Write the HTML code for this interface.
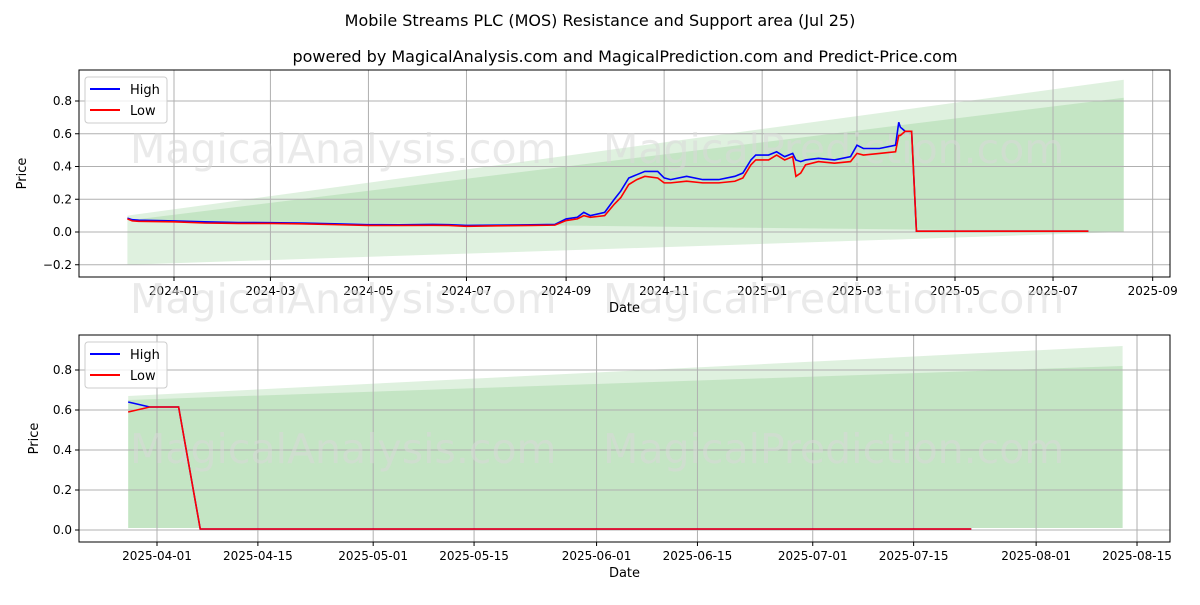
<!DOCTYPE html>
<html><head><meta charset="utf-8"><style>
body{margin:0;background:#fff;font-family:"Liberation Sans","DejaVu Sans",sans-serif}
svg text{font-family:"DejaVu Sans","Liberation Sans",sans-serif}
</style></head><body>
<svg id="s" width="1200" height="600" xmlns="http://www.w3.org/2000/svg">
<rect width="1200" height="600" fill="#fff"/>
<text x="600" y="26" text-anchor="middle" font-size="16">Mobile Streams PLC (MOS) Resistance and Support area (Jul 25)</text>
<text x="625" y="62" text-anchor="middle" font-size="16">powered by MagicalAnalysis.com and MagicalPrediction.com and Predict-Price.com</text>
</svg>
<script>
const dates=["2023-12-03","2023-12-06","2023-12-10","2024-01-01","2024-01-20","2024-02-10","2024-03-01","2024-03-20","2024-04-10","2024-05-01","2024-05-20","2024-06-10","2024-06-20","2024-07-01","2024-07-20","2024-08-10","2024-08-25","2024-09-01","2024-09-08","2024-09-12","2024-09-16","2024-09-25","2024-10-01","2024-10-05","2024-10-10","2024-10-15","2024-10-20","2024-10-28","2024-11-01","2024-11-05","2024-11-15","2024-11-25","2024-12-05","2024-12-15","2024-12-20","2024-12-25","2024-12-28","2025-01-05","2025-01-10","2025-01-15","2025-01-20","2025-01-22","2025-01-25","2025-01-28","2025-02-05","2025-02-15","2025-02-25","2025-03-01","2025-03-05","2025-03-15","2025-03-25","2025-03-27","2025-03-28","2025-03-31","2025-04-04","2025-04-07","2025-05-01","2025-06-01","2025-07-01","2025-07-23"];
const high=[0.085,0.075,0.072,0.068,0.062,0.058,0.057,0.055,0.05,0.045,0.044,0.046,0.045,0.04,0.042,0.044,0.046,0.08,0.09,0.12,0.10,0.12,0.20,0.25,0.33,0.35,0.37,0.37,0.33,0.32,0.34,0.32,0.32,0.34,0.36,0.44,0.47,0.47,0.49,0.46,0.48,0.44,0.43,0.44,0.45,0.44,0.46,0.53,0.51,0.51,0.53,0.67,0.64,0.615,0.615,0.005,0.005,0.005,0.005,0.005];
const low=[0.08,0.068,0.065,0.062,0.055,0.052,0.052,0.05,0.045,0.04,0.04,0.041,0.04,0.035,0.038,0.04,0.042,0.07,0.08,0.10,0.09,0.10,0.17,0.21,0.29,0.32,0.34,0.33,0.30,0.30,0.31,0.30,0.30,0.31,0.33,0.41,0.44,0.44,0.47,0.44,0.46,0.34,0.36,0.41,0.43,0.42,0.43,0.48,0.47,0.48,0.49,0.59,0.59,0.615,0.615,0.005,0.005,0.005,0.005,0.005];
const topTicksX=["2024-01","2024-03","2024-05","2024-07","2024-09","2024-11","2025-01","2025-03","2025-05","2025-07","2025-09"];
const topTicksY=[-0.2,0.0,0.2,0.4,0.6,0.8];
const botTicksX=["2025-04-01","2025-04-15","2025-05-01","2025-05-15","2025-06-01","2025-06-15","2025-07-01","2025-07-15","2025-08-01","2025-08-15"];
const botTicksY=[0.0,0.2,0.4,0.6,0.8];
const topBandA={start:"2023-12-03",end:"2025-08-14",lo:[-0.2,0.0],hi:[0.1,0.93]};
const topBandB={start:"2023-12-03",end:"2025-08-14",lo:[0.07,0.0],hi:[0.07,0.82]};
const botBandA={start:"2025-03-28",end:"2025-08-13",lo:[0.01,0.01],hi:[0.67,0.92]};
const botBandB={start:"2025-03-28",end:"2025-08-13",lo:[0.01,0.01],hi:[0.65,0.82]};

const NS="http://www.w3.org/2000/svg",svg=document.getElementById('s');
const day=d=>{if(d.length===7)d+="-01";return Date.parse(d+"T00:00:00Z")/864e5;};
function mk(t,a,p){const e=document.createElementNS(NS,t);for(const k in a)e.setAttribute(k,a[k]);(p||svg).appendChild(e);return e;}
function panel(cfg){
 const {L,R,T,B,d0,x0,pxd,y0,pyu}=cfg;
 const X=d=>x0+(day(d)-d0)*pxd, Y=v=>y0-v*pyu;
 const g=mk('g',{});
 
 
 [cfg.bA,cfg.bB].forEach((b,i)=>{
  const p=mk('polygon',{points:`${X(b.start)},${Y(b.lo[0])} ${X(b.end)},${Y(b.lo[1])} ${X(b.end)},${Y(b.hi[1])} ${X(b.start)},${Y(b.hi[0])}`,fill:'#4caf50','fill-opacity':0.18},g);
  
  
 });
 cfg.tx.forEach(t=>{const x=X(t);mk('line',{x1:x,x2:x,y1:T,y2:B,stroke:'#b0b0b0','stroke-width':1},g);mk('line',{x1:x,x2:x,y1:B,y2:B+4,stroke:'#000'},g);
  const tt=mk('text',{x:x,y:B+18,'text-anchor':'middle','font-size':12},g);tt.textContent=t;
  
  });
 cfg.ty.forEach(v=>{const y=Y(v);mk('line',{x1:L,x2:R,y1:y,y2:y,stroke:'#b0b0b0','stroke-width':1},g);mk('line',{x1:L-4,x2:L,y1:y,y2:y,stroke:'#000'},g);
  const tt=mk('text',{x:L-7,y:y+4,'text-anchor':'end','font-size':12},g);tt.textContent=(v<0?'\u22120.'+String(Math.abs(v).toFixed(1)).slice(2):v.toFixed(1));
  
  });
 cfg.wm.forEach(w=>{const t=mk('text',{x:w[0],y:w[1],'font-size':41,fill:'#d8d8d8','fill-opacity':0.55},g);t.textContent=w[2];
  
  });
 const idx=dates.map((d,i)=>i).filter(i=>day(dates[i])>=day(cfg.from));
 [[high,'#0000ff','high-line'],[low,'#ff0000','low-line']].forEach(s=>{
  const p=mk('polyline',{points:idx.map(i=>X(dates[i])+','+Y(s[0][i])).join(' '),fill:'none',stroke:s[1],'stroke-width':1.6},g);
  
  
 });
 mk('rect',{x:L,y:T,width:R-L,height:B-T,fill:'none',stroke:'#000','stroke-width':1},g);
 const lg=mk('g',{},g);
 
 
 mk('rect',{x:85,y:T+7,width:82,height:46,rx:3,fill:'#fff','fill-opacity':0.8,stroke:'#ccc'},lg);
 mk('line',{x1:90,x2:120,y1:T+19,y2:T+19,stroke:'#0000ff','stroke-width':2},lg);
 mk('line',{x1:90,x2:120,y1:T+40,y2:T+40,stroke:'#ff0000','stroke-width':2},lg);
 let t=mk('text',{x:130,y:T+24,'font-size':13},lg);t.textContent='High';
 t=mk('text',{x:130,y:T+45,'font-size':13},lg);t.textContent='Low';
 t=mk('text',{x:(L+R)/2,y:B+35,'text-anchor':'middle','font-size':13},g);t.textContent='Date';
 
 
 t=mk('text',{x:0,y:0,'text-anchor':'middle','font-size':13,transform:`translate(${cfg.yl},${(T+B)/2}) rotate(-90)`},g);t.textContent='Price';
 
 
}
panel({name:'top-panel',L:79,R:1170,T:70,B:277,d0:day("2024-01-01"),x0:174,pxd:1.607,y0:232,pyu:163.75,tx:topTicksX,ty:topTicksY,bA:topBandA,bB:topBandB,from:"2023-01-01",yl:26,
 wm:[[130,163,'MagicalAnalysis.com'],[603,163,'MagicalPrediction.com'],[130,313,'MagicalAnalysis.com'],[603,313,'MagicalPrediction.com']]});
panel({name:'bottom-panel',L:79,R:1170,T:335,B:542,d0:day("2025-04-01"),x0:157,pxd:7.206,y0:530,pyu:200,tx:botTicksX,ty:botTicksY,bA:botBandA,bB:botBandB,from:"2025-03-28",yl:38,
 wm:[[130,463,'MagicalAnalysis.com'],[603,463,'MagicalPrediction.com']]});
</script>
</body></html>
